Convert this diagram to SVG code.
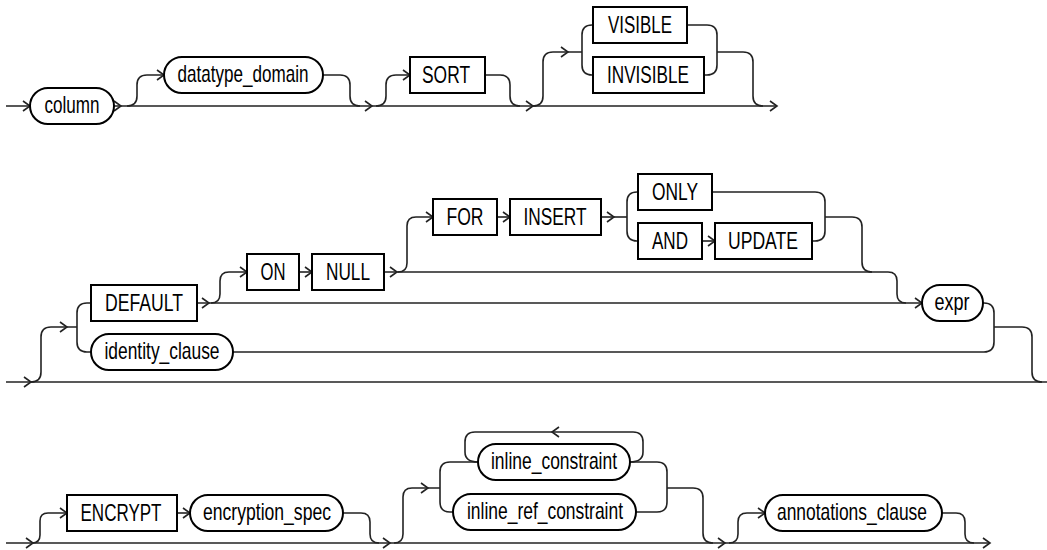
<svg xmlns="http://www.w3.org/2000/svg" xmlns:xlink="http://www.w3.org/1999/xlink" width="1047" height="550" viewBox="0 0 1047 550">
<style>
.c{fill:none;stroke:#222;stroke-width:1.6}
.ah{fill:none;stroke:#222;stroke-width:1.6}
.k{fill:#fff;stroke:#000;stroke-width:2}
.t{font-family:"Liberation Sans Narrow","Liberation Sans",Arial,sans-serif;font-size:24px;fill:#000;text-anchor:middle}
</style>
<defs>
<path id="ar" class="ah" d="M-7,-5 L0,0 L-7,5"/>
</defs>
<rect width="1047" height="550" fill="#fff"/>
<g id="connectors">
<!-- top row -->
<path class="c" d="M6,106 H30 M114,106 H777"/>
<path class="c" d="M127,106 Q137,106 137,96 V85 Q137,75 147,75 H164"/>
<path class="c" d="M323,75 H340 Q350,75 350,85 V96 Q350,106 360,106"/>
<path class="c" d="M376,106 Q386,106 386,96 V85 Q386,75 396,75 H410"/>
<path class="c" d="M485,75 H500 Q510,75 510,85 V96 Q510,106 520,106"/>
<path class="c" d="M533,106 Q543,106 543,96 V62 Q543,52 553,52 H582"/>
<path class="c" d="M593,25 H592 Q582,25 582,35 V65 Q582,75 592,75 H593"/>
<path class="c" d="M687,25 H707 Q717,25 717,35 V65 Q717,75 707,75 H704"/>
<path class="c" d="M717,52 H743 Q753,52 753,62 V96 Q753,106 763,106"/>
<use xlink:href="#ar" x="30" y="106"/>
<use xlink:href="#ar" x="121" y="106"/>
<use xlink:href="#ar" x="164" y="75"/>
<use xlink:href="#ar" x="372" y="106"/>
<use xlink:href="#ar" x="410" y="75"/>
<use xlink:href="#ar" x="533" y="106"/>
<use xlink:href="#ar" x="568" y="52"/>
<use xlink:href="#ar" x="777" y="106"/>
<!-- middle row -->
<path class="c" d="M6,382 H1047"/>
<path class="c" d="M31,382 Q41,382 41,372 V337 Q41,327 51,327 H77"/>
<path class="c" d="M91,303 H87 Q77,303 77,313 V342 Q77,352 87,352 H91"/>
<path class="c" d="M197,303 H922"/>
<path class="c" d="M211,303 Q220,303 220,294 V281 Q220,272 229,272 H247"/>
<path class="c" d="M299,272 H312"/>
<path class="c" d="M384,272 H888 Q897,272 897,281 V294 Q897,303 906,303"/>
<path class="c" d="M398,272 Q407,272 407,263 V226 Q407,217 416,217 H433"/>
<path class="c" d="M497,217 H510"/>
<path class="c" d="M601,217 H627"/>
<path class="c" d="M638,192 H637 Q627,192 627,202 V231 Q627,241 637,241 H638"/>
<path class="c" d="M702,241 H715"/>
<path class="c" d="M712,192 H815 Q825,192 825,202 V231 Q825,241 815,241 H812"/>
<path class="c" d="M825,217 H852 Q862,217 862,227 V262 Q862,272 872,272"/>
<path class="c" d="M983,303 H984 Q994,303 994,313 V342 Q994,352 984,352 H233"/>
<path class="c" d="M994,327 H1022 Q1032,327 1032,337 V372 Q1032,382 1042,382"/>
<use xlink:href="#ar" x="31" y="382"/>
<use xlink:href="#ar" x="67" y="327"/>
<use xlink:href="#ar" x="209" y="303"/>
<use xlink:href="#ar" x="247" y="272"/>
<use xlink:href="#ar" x="312" y="272"/>
<use xlink:href="#ar" x="397" y="272"/>
<use xlink:href="#ar" x="433" y="217"/>
<use xlink:href="#ar" x="510" y="217"/>
<use xlink:href="#ar" x="614" y="217"/>
<use xlink:href="#ar" x="715" y="241"/>
<use xlink:href="#ar" x="922" y="303"/>
<!-- bottom row -->
<path class="c" d="M6,543 H990"/>
<path class="c" d="M32,543 Q40,543 40,535 V521 Q40,513 48,513 H67"/>
<path class="c" d="M177,513 H190"/>
<path class="c" d="M343,513 H361 Q370,513 370,522 V534 Q370,543 379,543"/>
<path class="c" d="M394,543 Q403,543 403,534 V497 Q403,488 412,488 H440"/>
<path class="c" d="M478,462 H450 Q440,462 440,472 V502 Q440,512 450,512 H453"/>
<path class="c" d="M478,462 Q465,462 465,452 V442 Q465,432 475,432 H633 Q643,432 643,442 V452 Q643,462 630,462"/>
<path class="c" d="M630,462 H657 Q667,462 667,472 V502 Q667,512 657,512 H636"/>
<path class="c" d="M667,488 H693 Q703,488 703,498 V533 Q703,543 713,543"/>
<path class="c" d="M729,543 Q738,543 738,534 V522 Q738,513 747,513 H765"/>
<path class="c" d="M942,513 H956 Q965,513 965,522 V534 Q965,543 974,543"/>
<use xlink:href="#ar" x="33" y="543"/>
<use xlink:href="#ar" x="67" y="513"/>
<use xlink:href="#ar" x="190" y="513"/>
<use xlink:href="#ar" x="390" y="543"/>
<use xlink:href="#ar" x="428" y="488"/>
<use xlink:href="#ar" x="552" y="432" transform="rotate(180 552 432)"/>
<use xlink:href="#ar" x="725" y="543"/>
<use xlink:href="#ar" x="765" y="513"/>
<use xlink:href="#ar" x="990" y="543"/>
</g>
<!-- top row nodes -->
<g id="n-column"><rect class="k" x="30" y="88" width="84" height="36" rx="18"/><text class="t" x="72" y="113" textLength="55" lengthAdjust="spacingAndGlyphs">column</text></g>
<g id="n-datatype_domain"><rect class="k" x="164" y="57" width="159" height="36" rx="18"/><text class="t" x="243" y="82" textLength="131" lengthAdjust="spacingAndGlyphs">datatype_domain</text></g>
<g id="n-sort"><rect class="k" x="410" y="57" width="75" height="36"/><text class="t" x="446" y="83" textLength="48" lengthAdjust="spacingAndGlyphs">SORT</text></g>
<g id="n-visible"><rect class="k" x="593" y="7" width="94" height="36"/><text class="t" x="640" y="33" textLength="64" lengthAdjust="spacingAndGlyphs">VISIBLE</text></g>
<g id="n-invisible"><rect class="k" x="593" y="57" width="111" height="36"/><text class="t" x="648" y="83" textLength="82" lengthAdjust="spacingAndGlyphs">INVISIBLE</text></g>
<!-- middle row nodes -->
<g id="n-default"><rect class="k" x="91" y="285" width="106" height="36"/><text class="t" x="144" y="311" textLength="78" lengthAdjust="spacingAndGlyphs">DEFAULT</text></g>
<g id="n-identity_clause"><rect class="k" x="91" y="334" width="142" height="36" rx="18"/><text class="t" x="162" y="359" textLength="115" lengthAdjust="spacingAndGlyphs">identity_clause</text></g>
<g id="n-on"><rect class="k" x="247" y="254" width="52" height="36"/><text class="t" x="273" y="280" textLength="25" lengthAdjust="spacingAndGlyphs">ON</text></g>
<g id="n-null"><rect class="k" x="312" y="254" width="72" height="36"/><text class="t" x="348" y="280" textLength="44" lengthAdjust="spacingAndGlyphs">NULL</text></g>
<g id="n-for"><rect class="k" x="433" y="199" width="64" height="36"/><text class="t" x="465" y="225" textLength="37" lengthAdjust="spacingAndGlyphs">FOR</text></g>
<g id="n-insert"><rect class="k" x="510" y="199" width="91" height="36"/><text class="t" x="555" y="225" textLength="63" lengthAdjust="spacingAndGlyphs">INSERT</text></g>
<g id="n-only"><rect class="k" x="638" y="174" width="74" height="36"/><text class="t" x="675" y="200" textLength="46" lengthAdjust="spacingAndGlyphs">ONLY</text></g>
<g id="n-and"><rect class="k" x="638" y="223" width="64" height="36"/><text class="t" x="670" y="249" textLength="36" lengthAdjust="spacingAndGlyphs">AND</text></g>
<g id="n-update"><rect class="k" x="715" y="223" width="97" height="36"/><text class="t" x="763" y="249" textLength="70" lengthAdjust="spacingAndGlyphs">UPDATE</text></g>
<g id="n-expr"><rect class="k" x="922" y="285" width="61" height="36" rx="18"/><text class="t" x="952" y="310" textLength="35" lengthAdjust="spacingAndGlyphs">expr</text></g>
<!-- bottom row nodes -->
<g id="n-encrypt"><rect class="k" x="67" y="495" width="110" height="36"/><text class="t" x="121" y="521" textLength="81" lengthAdjust="spacingAndGlyphs">ENCRYPT</text></g>
<g id="n-encryption_spec"><rect class="k" x="190" y="495" width="153" height="36" rx="18"/><text class="t" x="267" y="520" textLength="128" lengthAdjust="spacingAndGlyphs">encryption_spec</text></g>
<g id="n-inline_constraint"><rect class="k" x="478" y="444" width="152" height="36" rx="18"/><text class="t" x="554" y="469" textLength="126" lengthAdjust="spacingAndGlyphs">inline_constraint</text></g>
<g id="n-inline_ref_constraint"><rect class="k" x="453" y="494" width="183" height="36" rx="18"/><text class="t" x="545" y="519" textLength="156" lengthAdjust="spacingAndGlyphs">inline_ref_constraint</text></g>
<g id="n-annotations_clause"><rect class="k" x="765" y="495" width="177" height="36" rx="18"/><text class="t" x="852" y="520" textLength="150" lengthAdjust="spacingAndGlyphs">annotations_clause</text></g>
</svg>
